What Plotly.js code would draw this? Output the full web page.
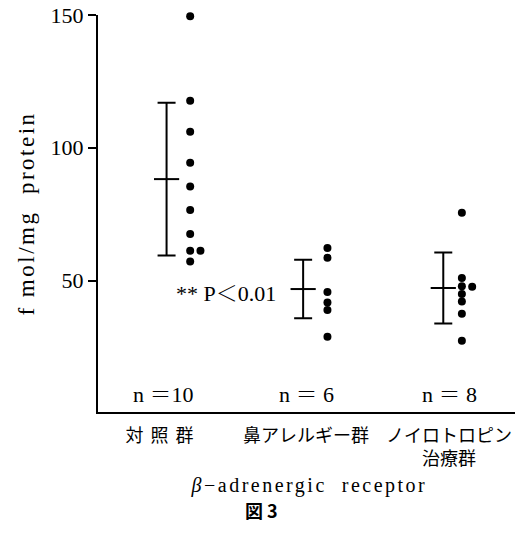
<!DOCTYPE html>
<html><head><meta charset="utf-8">
<script src="https://cdn.plot.ly/plotly-3.0.1.min.js"></script>
<style>
html,body{margin:0;padding:0;background:#fff}
.ytitle{letter-spacing:2.5px}
</style>
</head><body><div id="chart" style="width:519px;height:543px"></div>
<script>
// ---- data ----
const groups = ["対照群", "鼻アレルギー群", "ノイロトロピン<br>治療群"];
const controlValues = [149.5, 117.7, 106.0, 94.4, 85.4, 76.6, 67.5, 61.2, 61.2, 57.2];
const allergyValues = [62.3, 58.6, 45.7, 41.7, 38.9, 28.8];
const neurotropinValues = [75.5, 51.0, 47.9, 47.7, 44.9, 42.1, 37.5, 27.3];
const means = [88.2, 46.8, 47.2];
const sds = [28.8, 11.0, 13.4];
const nLabels = ["n ＝10", "n ＝ 6", "n ＝ 8"];
const yTicks = [50, 100, 150];
const pLabel = "** P＜0.01";
const yTitle = "f mol/mg  protein";
const xTitle = "<i>β</i>−adrenergic  receptor";
const figLabel = "<b>図 3</b>";

// ---- layout constants ----
const serif = "Liberation Serif, Noto Serif CJK JP, Noto Sans CJK JP, serif";
const cjk = "Noto Sans CJK JP, sans-serif";
const groupPos = [1, 2, 3];
const barOffset = [0.025, -0.02, -0.04];
const dotOffset = [0.19, 0.15, 0.09];
const jitterStep = 0.072;

const series = [controlValues, allergyValues, neurotropinValues];
const dotX = [], dotY = [];
series.forEach((vals, g) => {
  const placed = [];
  vals.forEach(v => {
    const col = placed.filter(p => Math.abs(p - v) < 1.0).length;
    placed.push(v);
    dotX.push(groupPos[g] + dotOffset[g] + col * jitterStep);
    dotY.push(v);
  });
});

const traces = [
  {
    type: "scatter", mode: "markers",
    x: dotX, y: dotY,
    marker: {color: "#000", size: 8},
    hoverinfo: "y", showlegend: false, cliponaxis: false
  },
  {
    type: "scatter", mode: "markers",
    x: groupPos.map((p, i) => p + barOffset[i]), y: means,
    marker: {symbol: "line-ew", size: 18, color: "#000", line: {width: 2, color: "#000"}},
    error_y: {type: "data", array: sds, visible: true, color: "#000", thickness: 2, width: 9},
    showlegend: false, cliponaxis: false
  }
];

const annotations = [];
nLabels.forEach((t, i) => annotations.push({
  x: groupPos[i], y: 7, xref: "x", yref: "y", text: t, showarrow: false,
  font: {family: serif, size: 22, color: "#000"}, xanchor: "center", yanchor: "middle"
}));
annotations.push({
  x: 1.44, y: 45, xref: "x", yref: "y", text: pLabel, showarrow: false,
  font: {family: serif, size: 22, color: "#000"}, xanchor: "center", yanchor: "middle"
});
annotations.push({
  x: 0.506, y: -0.185, xref: "paper", yref: "paper", text: xTitle, showarrow: false,
  font: {family: serif, size: 20, color: "#000"}, xanchor: "center", yanchor: "middle"
});
annotations.push({
  x: 0.391, y: -0.247, xref: "paper", yref: "paper", text: figLabel, showarrow: false,
  font: {family: cjk, size: 18, color: "#000"}, xanchor: "center", yanchor: "middle"
});

const layout = {
  width: 519, height: 543,
  margin: {l: 98, r: 4, t: 15, b: 131},
  paper_bgcolor: "#fff", plot_bgcolor: "#fff",
  showlegend: false,
  xaxis: {
    range: [0.5455, 3.4615], tickmode: "array", tickvals: groupPos, ticktext: groups,
    ticks: "", showline: true, linewidth: 2, linecolor: "#000", showgrid: false, zeroline: false,
    tickfont: {family: cjk, size: 18, color: "#000"}, ticklabelstandoff: 6
  },
  yaxis: {
    range: [0.5, 150], tickmode: "array", tickvals: yTicks,
    ticks: "outside", ticklen: 8, tickwidth: 2, tickcolor: "#000",
    showline: true, linewidth: 2, linecolor: "#000", showgrid: false, zeroline: false,
    tickfont: {family: serif, size: 22, color: "#000"},
    title: {text: yTitle, font: {family: serif, size: 23, color: "#000"}, standoff: 10}
  },
  annotations: annotations
};

Plotly.newPlot("chart", traces, layout, {displayModeBar: false, staticPlot: true}).then(() => {
  const ann = document.querySelectorAll("#chart .annotation");
  // spread the axis-title letters like the printed original
  const t = ann[4] && ann[4].querySelector("text");
  if (t) t.style.letterSpacing = "2.5px";
  const ticks = document.querySelectorAll("#chart .xtick text");
  if (ticks[0]) ticks[0].style.letterSpacing = "7px";
});
</script>
</body></html>
